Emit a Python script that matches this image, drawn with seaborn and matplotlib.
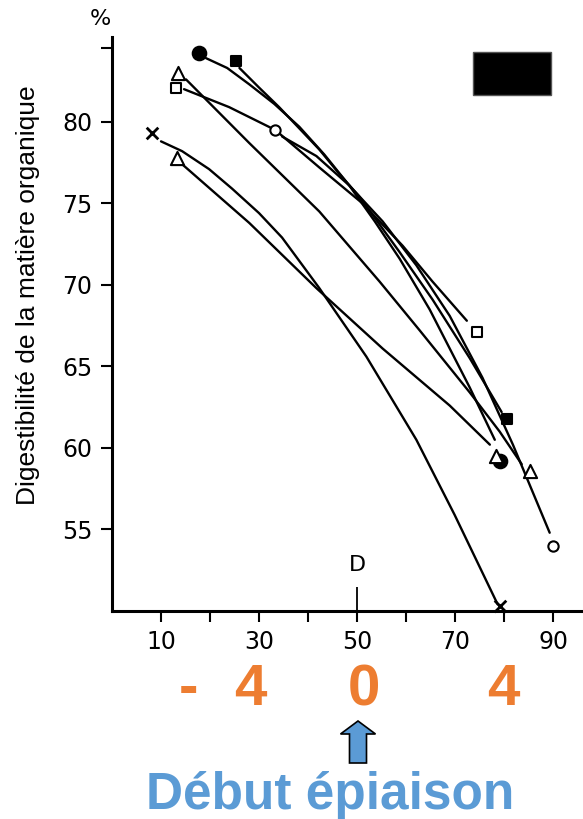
import matplotlib
matplotlib.use("Agg")
import matplotlib.pyplot as plt
import matplotlib.patches as mpatches
import matplotlib.transforms as mtransforms
import pandas as pd
import seaborn as sns

# Early / late points of each grass (x = stage, y = digestibility %)
marker_x = [17.8, 79.1, 25.3, 80.6, 13.1, 74.4, 33.3, 90.0, 13.5, 85.3, 13.3, 78.3, 8.2, 79.1]
marker_y = [84.2, 59.2, 83.7, 61.8, 82.1, 67.1, 79.5, 54.0, 83.0, 58.6, 77.8, 59.5, 79.3, 50.3]
marker_kind = ["filled_circle", "filled_circle", "filled_square", "filled_square",
               "open_square", "open_square", "open_circle", "open_circle",
               "triangle", "triangle", "triangle", "triangle", "cross", "cross"]

# Points
circle_f_x = [19.2, 23.5, 28.0, 33.1, 38.2, 43.3, 48.4, 53.6, 58.7, 64.8, 68.9, 73.0, 78.1]
circle_f_y = [83.9, 83.3, 82.3, 81.1, 79.7, 78.0, 76.1, 73.9, 71.6, 68.5, 66.1, 63.7, 60.5]
square_f_x = [26.0, 30.0, 34.1, 38.2, 42.3, 46.4, 50.5, 54.6, 58.7, 65.4, 73.0, 79.5]
square_f_y = [83.3, 82.1, 80.9, 79.6, 78.3, 76.8, 75.4, 73.7, 72.0, 69.1, 65.5, 62.2]
square_o_x = [14.7, 23.9, 33.3, 42.3, 51.1, 59.3, 65.4, 72.4]
square_o_y = [82.0, 80.9, 79.5, 77.2, 75.0, 72.4, 70.2, 67.8]
circle_o_x = [34.7, 41.7, 48.4, 55.2, 62.1, 68.9, 75.6, 81.8, 89.3]
circle_o_y = [79.1, 77.9, 76.1, 73.9, 71.2, 68.1, 64.3, 60.2, 54.8]
tri1_x = [15.1, 28.0, 42.3, 54.6, 62.8, 73.0, 79.1, 83.6]
tri1_y = [82.6, 78.7, 74.5, 70.2, 67.2, 63.4, 61.0, 59.0]
tri2_x = [14.3, 28.0, 41.7, 55.2, 68.9, 77.1]
tri2_y = [77.4, 73.8, 69.8, 66.1, 62.6, 60.2]
cross_x = [10.0, 14.3, 19.8, 24.5, 30.0, 34.7, 42.3, 51.9, 62.1, 69.9, 78.7]
cross_y = [78.8, 78.2, 77.1, 75.9, 74.4, 72.9, 69.8, 65.6, 60.5, 55.9, 50.4]

y_ticks = [55, 60, 65, 70, 75, 80, 84.5]
y_tick_labels = ["55", "60", "65", "70", "75", "80", ""]
x_ticks = [10, 20, 30, 40, 50, 60, 70, 80, 90]
x_tick_labels = ["10", "", "30", "", "50", "", "70", "", "90"]

week_labels = ["-", "4", "0", "4"]
week_pos = [15.7, 28.2, 51.5, 79.9]

curves = pd.concat([
    pd.DataFrame({"x": circle_f_x, "y": circle_f_y, "g": "circle_f"}),
    pd.DataFrame({"x": square_f_x, "y": square_f_y, "g": "square_f"}),
    pd.DataFrame({"x": square_o_x, "y": square_o_y, "g": "square_o"}),
    pd.DataFrame({"x": circle_o_x, "y": circle_o_y, "g": "circle_o"}),
    pd.DataFrame({"x": tri1_x, "y": tri1_y, "g": "tri1"}),
    pd.DataFrame({"x": tri2_x, "y": tri2_y, "g": "tri2"}),
    pd.DataFrame({"x": cross_x, "y": cross_y, "g": "cross"}),
], ignore_index=True)
points = pd.DataFrame({"x": marker_x, "y": marker_y, "kind": marker_kind})

sns.set_style("white")
plt.rcParams["font.family"] = ["DejaVu Sans"]
plt.rcParams["text.color"] = "black"
plt.rcParams["axes.labelcolor"] = "black"
plt.rcParams["xtick.color"] = "black"
plt.rcParams["ytick.color"] = "black"
plt.rcParams["lines.solid_joinstyle"] = "round"

fig = plt.figure(figsize=(5.83, 8.19), dpi=100)
ax = fig.add_axes([112 / 583, 1 - 611 / 819, 471 / 583, 574 / 819])

sns.lineplot(data=curves, x="x", y="y", units="g", estimator=None, sort=False,
             color="black", linewidth=1.7, ax=ax)

styles = {
    "filled_circle": dict(marker="o", s=95, facecolor="black"),
    "filled_square": dict(marker="s", s=60, facecolor="black"),
    "open_square": dict(marker="s", s=60, facecolor="white"),
    "open_circle": dict(marker="o", s=55, facecolor="white"),
    "triangle": dict(marker="^", s=90, facecolor="white"),
}
for kind, st in styles.items():
    sub = points[points["kind"] == kind]
    sns.scatterplot(data=sub, x="x", y="y", marker=st["marker"], s=st["s"],
                    color=st["facecolor"], edgecolor="black", linewidth=1.5,
                    zorder=5, clip_on=False, ax=ax)
sub = points[points["kind"] == "cross"]
sns.scatterplot(data=sub, x="x", y="y", marker="x", s=70, color="black",
                linewidth=2, zorder=5, clip_on=False, ax=ax)

ax.set_xlim(0, 96.1)
ax.set_ylim(50, 85.2)
ax.set_yticks(y_ticks)
ax.set_yticklabels(y_tick_labels)
ax.set_xticks(x_ticks)
ax.set_xticklabels(x_tick_labels)
ax.tick_params(axis="both", direction="out", length=8, width=1.5,
               labelsize=17, color="black", labelcolor="black", left=True, bottom=True)
ax.tick_params(axis="y", pad=6)
ax.tick_params(axis="x", pad=6)
ax.set_xlabel("")
ax.set_ylabel("Digestibilité de la matière organique", fontsize=19,
              family="Liberation Sans", color="black")
ax.yaxis.set_label_coords(-0.153, 0.55)
sns.despine(ax=ax)
for side in ["left", "bottom"]:
    ax.spines[side].set_linewidth(2.2)
    ax.spines[side].set_color("black")

# D marker (heading date)
ax.vlines(50, 50, 51.45, color="black", linewidth=1.3)
ax.text(50, 52.8, "D", ha="center", va="center", fontsize=16)

# black box (masked legend)
ax.add_patch(mpatches.Rectangle((0.766, 0.899), 0.166, 0.075, transform=ax.transAxes,
                                facecolor="black", edgecolor="#555555", clip_on=False))

fig.text(100 / 583, 1 - 19 / 819, "%", ha="center", va="center", fontsize=16)

# week annotations under the axis
trans = mtransforms.blended_transform_factory(ax.transData, fig.transFigure)
for lab, xp in zip(week_labels, week_pos):
    ax.text(xp, 1 - 690 / 819, lab, transform=trans, ha="center", va="center",
            fontsize=42, fontweight="bold", color="#ED7D31", family="Liberation Sans")

arrow = mpatches.FancyArrow(3.58, 0.56, 0, 0.42, width=0.17, head_width=0.35,
                            head_length=0.13, length_includes_head=True,
                            facecolor="#5B9BD5", edgecolor="black", linewidth=1.2,
                            transform=fig.dpi_scale_trans)
fig.patches.append(arrow)

fig.text(330 / 583, 1 - 795 / 819, "Début épiaison", ha="center", va="center",
         fontsize=37, fontweight="bold", color="#5B9BD5", family="Liberation Sans")

fig.savefig("out.png", dpi=100)
